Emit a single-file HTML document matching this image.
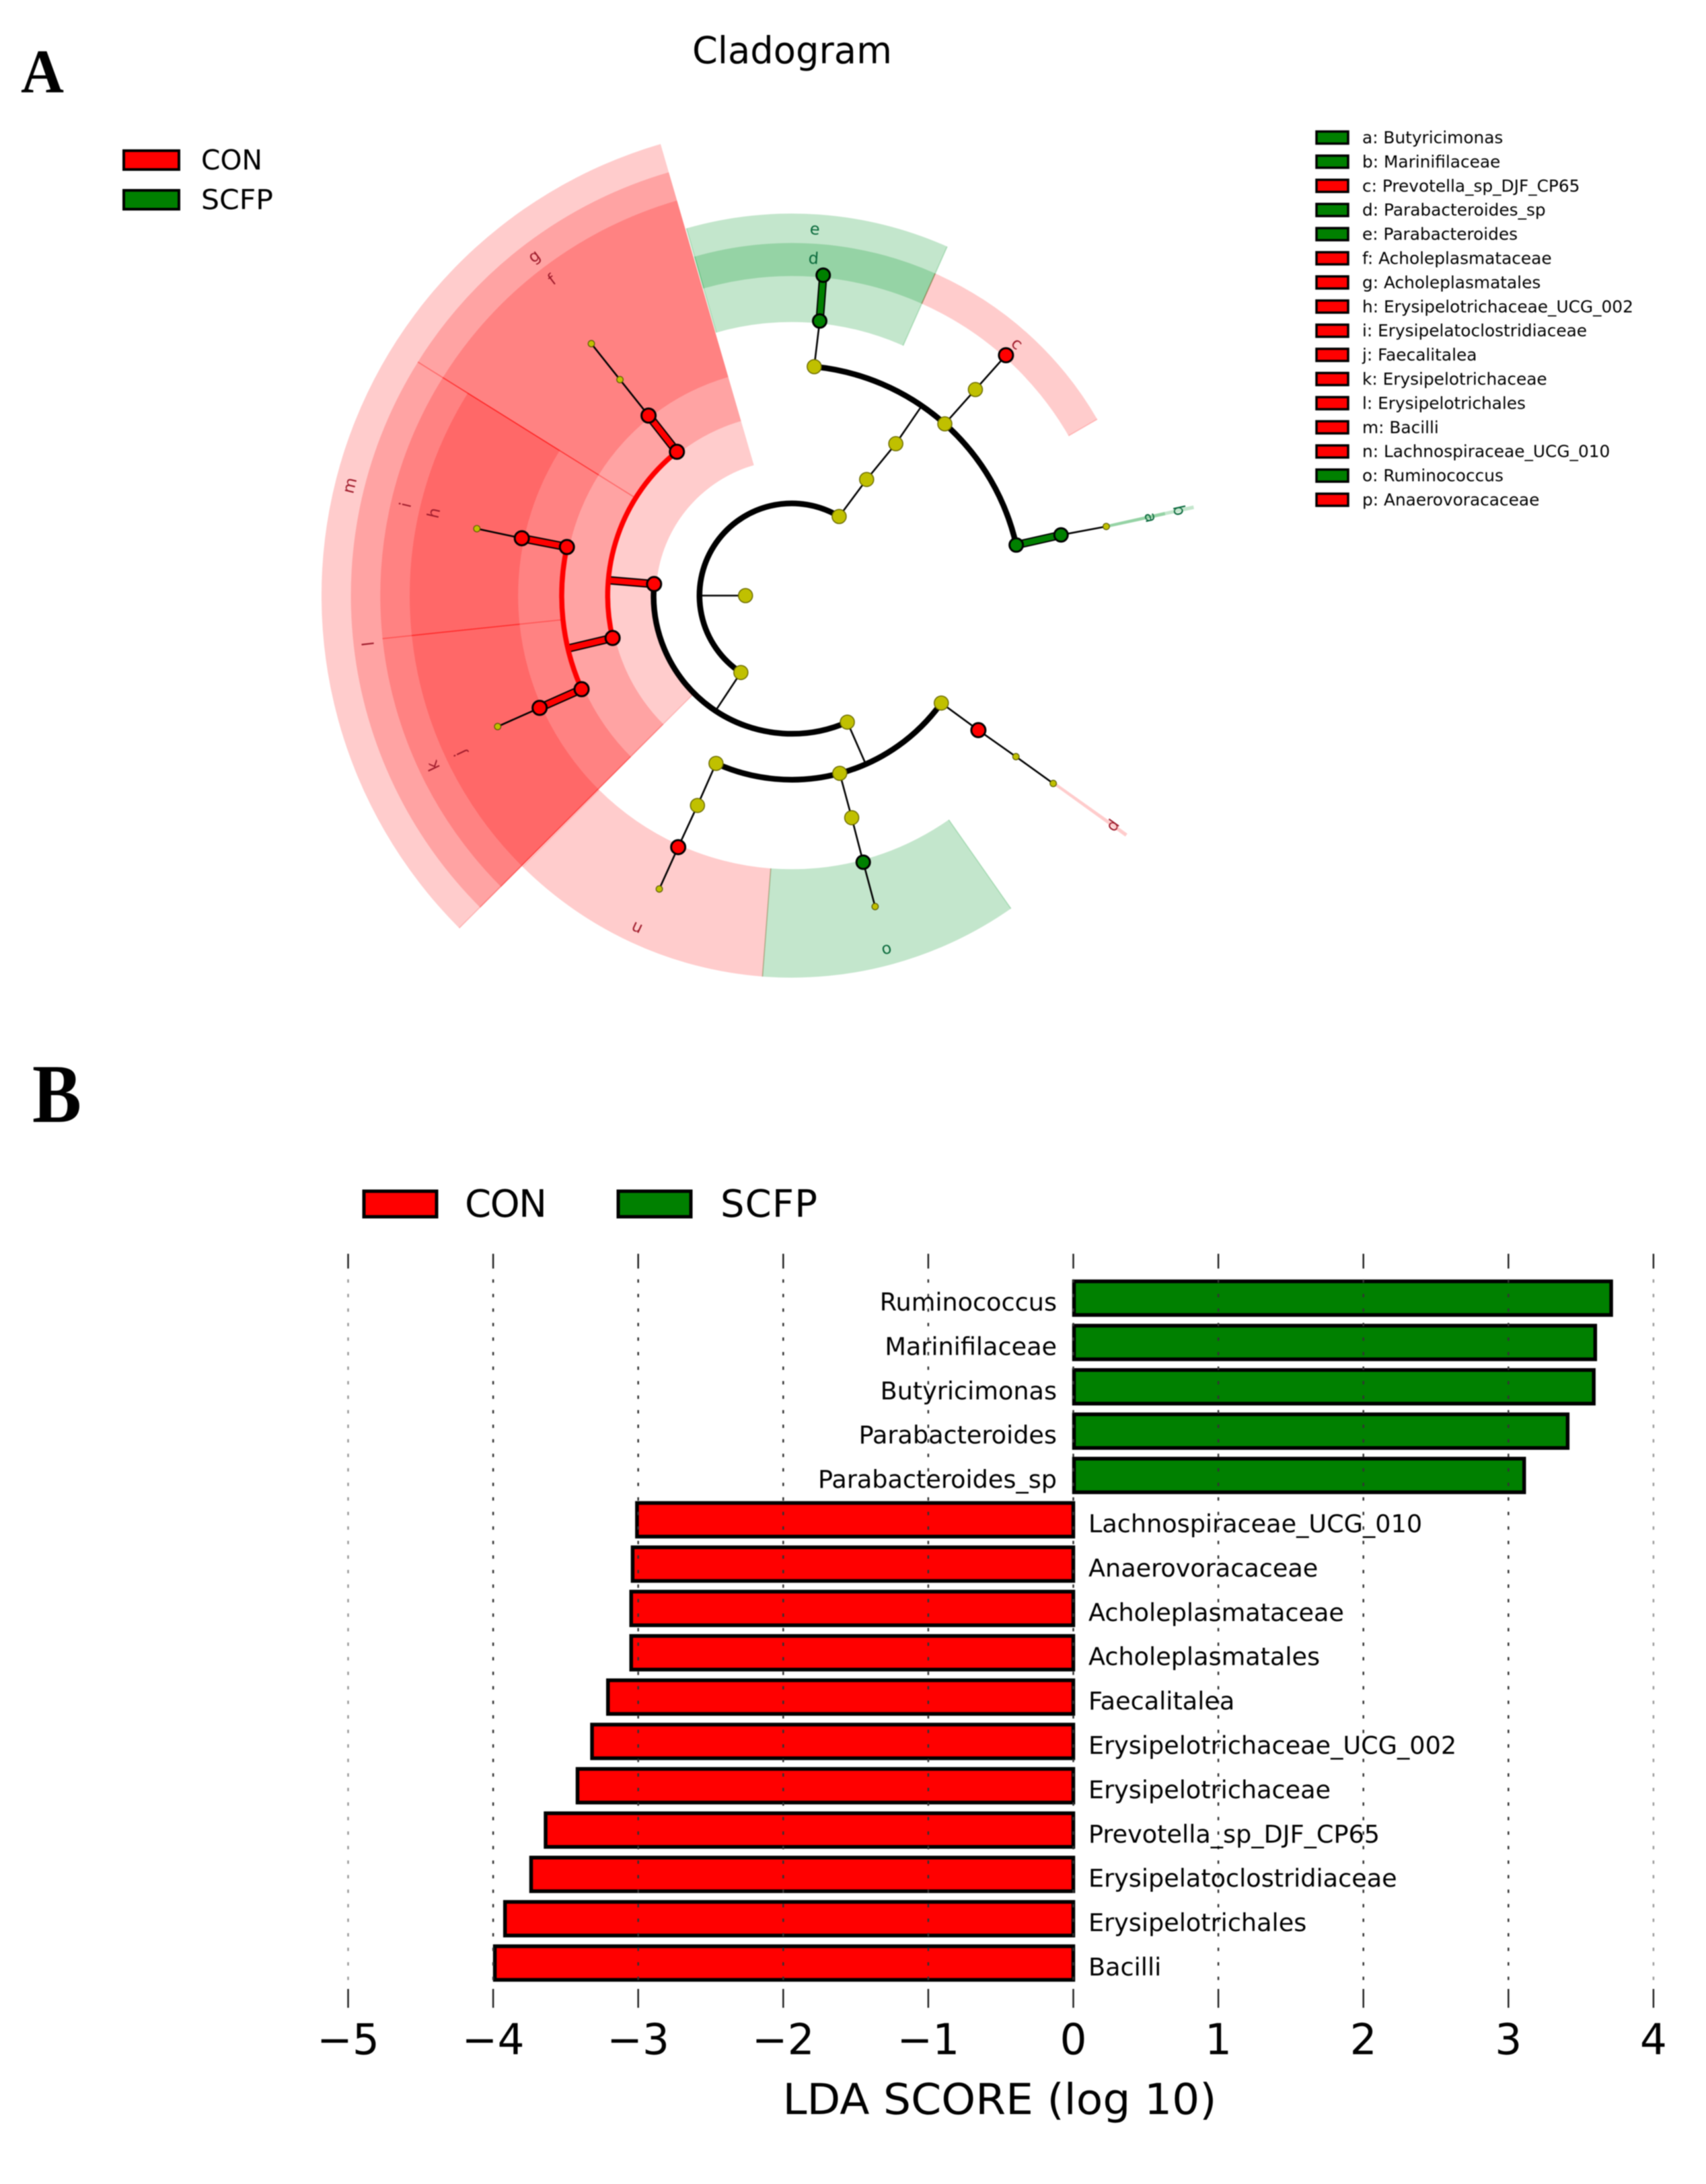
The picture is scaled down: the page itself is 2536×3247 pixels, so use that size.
<!DOCTYPE html>
<html lang="en">
<head>
<meta charset="utf-8">
<title>Cladogram and LDA score chart</title>
<style>
html,body{margin:0;padding:0;background:#fff;}
svg{display:block;filter:blur(0.7px);}
text{font-family:"DejaVu Sans","Liberation Sans",sans-serif;fill:#000;}
.panel{font-family:"Liberation Serif",serif;font-weight:bold;}
</style>
</head>
<body>
<svg id="figure" xmlns="http://www.w3.org/2000/svg" width="2536" height="3247" viewBox="0 0 2536 3247">
  <rect x="0" y="0" width="2536" height="3247" fill="#fff"/>
  <text class="panel" x="31" y="137" font-size="92" textLength="64" lengthAdjust="spacingAndGlyphs">A</text>
  <text class="panel" x="48" y="1668" font-size="124" textLength="73" lengthAdjust="spacingAndGlyphs">B</text>
  <text x="1029" y="94" font-size="55" textLength="297" lengthAdjust="spacingAndGlyphs">Cladogram</text>

  <g>
    <rect x="184" y="224" width="82" height="28" fill="#ff0000" stroke="#000" stroke-width="4"/>
    <text x="299" y="252" font-size="41" textLength="91" lengthAdjust="spacingAndGlyphs">CON</text>
    <rect x="184" y="283" width="82" height="28" fill="#008000" stroke="#000" stroke-width="4"/>
    <text x="299" y="311" font-size="41" textLength="107" lengthAdjust="spacingAndGlyphs">SCFP</text>
  </g>

  <g id="wedges"></g>
  <g id="branches"></g>
  <g id="nodes"></g>
  <g id="wedgeLabels"></g>
  <g id="taxaLegend"></g>

  <g>
    <rect x="541" y="1771" width="108" height="38" fill="#ff0000" stroke="#000" stroke-width="5"/>
    <text x="691" y="1809" font-size="56" textLength="122" lengthAdjust="spacing">CON</text>
    <rect x="919" y="1771" width="108" height="38" fill="#008000" stroke="#000" stroke-width="5"/>
    <text x="1071" y="1809" font-size="56" textLength="144" lengthAdjust="spacing">SCFP</text>
  </g>

  <g id="bars"></g>
  <g id="grid"></g>
  <g id="barLabels"></g>
  <g id="ticks"></g>
  <text x="1486" y="3143" font-size="63" text-anchor="middle" textLength="645" lengthAdjust="spacingAndGlyphs">LDA SCORE (log 10)</text>
</svg>

<script>
// ---------- LDA bar chart data ----------
const taxa = ["Ruminococcus","Marinifilaceae","Butyricimonas","Parabacteroides","Parabacteroides_sp","Lachnospiraceae_UCG_010","Anaerovoracaceae","Acholeplasmataceae","Acholeplasmatales","Faecalitalea","Erysipelotrichaceae_UCG_002","Erysipelotrichaceae","Prevotella_sp_DJF_CP65","Erysipelatoclostridiaceae","Erysipelotrichales","Bacilli"];
const ldaScores = [3.72,3.61,3.60,3.42,3.12,-3.02,-3.05,-3.06,-3.06,-3.22,-3.33,-3.43,-3.65,-3.75,-3.93,-4.00];
const tickValues = [-5,-4,-3,-2,-1,0,1,2,3,4];

// ---------- Cladogram data (depth = tree level, angle = compass degrees, unwrapped) ----------
const nodeDepths  = [1, 2,2, 3,4, 5,5,5, 6,7, 6,7, 6,7, 3,3, 4,4, 5,6,7, 5,5, 6,7, 6,7, 4,4,4, 5,6,7, 5,6,7, 5,6,7];
const nodeAngles  = [270, 390.9,213.5, 392.8,394.4, 365.6,401.7,437.3, 365.8,365.6, 401.7,401.7, 437.3,437.6, 274.8,156.3, 321.4,256.7, 321.5,321.5,321.5, 282.2,246, 282,282, 246,246, 204.3,164.9,125.7, 204.2,204.3,204.3, 164.9,165,165, 125.8,125.7,125.7];
const nodeParents = [-1, 0,0, 1,3, 4,4,4, 5,8, 6,10, 7,12, 2,2, 14,14, 16,18,19, 17,17, 21,23, 22,25, 15,15,15, 27,30,31, 28,33,34, 29,36,37];
const nodeKinds   = ["y", "y","y", "y","y", "y","y","g", "g","g", "y","r", "g","s", "r","y", "r","r", "r","s","s", "r","r", "r","s", "r","s", "y","y","y", "y","r","s", "y","g","s", "r","s","s"];

const wedgeLetters = ["m","g","f","l","i","h","k","j","n","o","e","d","c","p","b","a"];
const wedgeDepths  = [3,4,5,4,5,6,5,6,6,6,6,7,7,5,5,6];
const wedgeInnerDepths = [3,4,5,4,5,6,5,6,6,6,6,7,7,7,7,7];
const wedgeStarts  = [225,302,302,225,264,264,225,225,184.4,145,344,344,384,125.35,437.35,437.35];
const wedgeEnds    = [343.8,343.8,343.8,302,302,302,264,264,224.8,184.4,384,384,420,125.85,437.85,437.85];
const wedgeGroups  = ["r","r","r","r","r","r","r","r","r","g","g","g","r","r","g","g"];
const labelAngles  = [284,322.8,322.8,263.5,283.2,283,244.6,244.6,205,165,363.6,363.7,401.8,125.6,437.6,437.7];

const legendLetters = ["a","b","c","d","e","f","g","h","i","j","k","l","m","n","o","p"];
const legendTaxa = ["Butyricimonas","Marinifilaceae","Prevotella_sp_DJF_CP65","Parabacteroides_sp","Parabacteroides","Acholeplasmataceae","Acholeplasmatales","Erysipelotrichaceae_UCG_002","Erysipelatoclostridiaceae","Faecalitalea","Erysipelotrichaceae","Erysipelotrichales","Bacilli","Lachnospiraceae_UCG_010","Ruminococcus","Anaerovoracaceae"];
const legendGroups = ["g","g","r","g","g","r","r","r","r","r","r","r","r","r","g","r"];

// ---------- helpers ----------
const SVG_NS = "http://www.w3.org/2000/svg";
function make(tag, geometry, parent) {
  const el = document.createElementNS(SVG_NS, tag);
  for (const key in geometry) el.setAttribute(key, geometry[key]);
  parent.appendChild(el);
  return el;
}
function slug(s) { return s.toLowerCase().replace(/[^a-z0-9]+/g, "-"); }

// axis functions: bar chart
const xScale = v => 1595.5 + v * 215.6;
const yBand = i => 1930 + i * 65.9;

// axis functions: polar cladogram
const CX = 1177, CY = 885.5;
const levelRadius = d => 68.3 * d + 0.5;
const wedgeInner = d => 68.3 * d - 3;
const wedgeOuter = d => 524.3 + 43.7 * (7 - d);
function polar(r, deg) {
  const a = deg * Math.PI / 180;
  return [CX + r * Math.sin(a), CY - r * Math.cos(a)];
}
function arcPath(r, a0, a1) {
  const p0 = polar(r, a0), p1 = polar(r, a1);
  const large = (a1 - a0) > 180 ? 1 : 0;
  return "M" + p0[0].toFixed(2) + " " + p0[1].toFixed(2) + "A" + r + " " + r + " 0 " + large + " 1 " + p1[0].toFixed(2) + " " + p1[1].toFixed(2);
}
function sectorPath(r0, r1, a0, a1) {
  const p0 = polar(r1, a0), p1 = polar(r1, a1), p2 = polar(r0, a1), p3 = polar(r0, a0);
  const large = (a1 - a0) > 180 ? 1 : 0;
  return "M" + p0[0].toFixed(2) + " " + p0[1].toFixed(2) + "A" + r1 + " " + r1 + " 0 " + large + " 1 " + p1[0].toFixed(2) + " " + p1[1].toFixed(2) +
         "L" + p2[0].toFixed(2) + " " + p2[1].toFixed(2) + "A" + r0 + " " + r0 + " 0 " + large + " 0 " + p3[0].toFixed(2) + " " + p3[1].toFixed(2) + "Z";
}
const groupColor = { r: "#ff0000", g: "#008000" };
const wedgeFill = { r: "rgb(255,0,0)", g: "rgb(0,149,38)" };
const wedgeAlpha = { r: 0.2, g: 0.235 };
const labelInk = { r: "#a01c2c", g: "#0a6a3c" };
const nodeStyle = {
  y: { fill: "#c0c000", stroke: "#6a6a00", sw: 1.5, r: 10.5 },
  s: { fill: "#c0c000", stroke: "#555500", sw: 1.2, r: 4.8 },
  r: { fill: "#ff0000", stroke: "#000000", sw: 3, r: 10.5 },
  g: { fill: "#008000", stroke: "#000000", sw: 3, r: 10 }
};

// ---------- wedges ----------
const wedgeRoot = document.getElementById("wedges");
wedgeLetters.forEach((letter, i) => {
  const d = wedgeDepths[i], g = wedgeGroups[i];
  const r0 = wedgeInner(wedgeInnerDepths[i]), r1 = wedgeOuter(d);
  const el = make("path", {
    d: sectorPath(r0, r1, wedgeStarts[i], wedgeEnds[i]),
    fill: wedgeFill[g], "fill-opacity": wedgeAlpha[g], stroke: "none"
  }, wedgeRoot);
  
  
  if (wedgeEnds[i] - wedgeStarts[i] > 2) {
    // only the radial edges shared with a neighbouring wedge show as darker seams
    const edges = wedgeEnds[i] > 343 && wedgeEnds[i] < 344 ? [wedgeStarts[i]] : [wedgeStarts[i], wedgeEnds[i]];
    edges.forEach(a => {
      const p = polar(r0, a), q = polar(r1, a);
      const edge = make("line", { x1: p[0], y1: p[1], x2: q[0], y2: q[1], stroke: wedgeFill[g], "stroke-opacity": wedgeAlpha[g], "stroke-width": 1.6 }, wedgeRoot);
      
      
    });
  }
});

// ---------- branches ----------
const branchRoot = document.getElementById("branches");
const isMarked = k => k === "r" || k === "g";
function drawStem(a, b, parentIdx, childIdx) {
  const pk = nodeKinds[parentIdx], ck = nodeKinds[childIdx];
  const thick = isMarked(pk) && isMarked(ck);
  if (thick) {
    const halo = make("line", { x1: a[0], y1: a[1], x2: b[0], y2: b[1], stroke: "#000", "stroke-width": 12.5 }, branchRoot);
    
    
  }
  const ln = make("line", { x1: a[0], y1: a[1], x2: b[0], y2: b[1], stroke: thick ? groupColor[ck] : "#000", "stroke-width": thick ? 8.5 : 2.6 }, branchRoot);
  
  
}
nodeParents.forEach((_, pi) => {
  const kids = [];
  nodeParents.forEach((par, ci) => { if (par === pi) kids.push(ci); });
  if (!kids.length) return;
  const pPos = polar(levelRadius(nodeDepths[pi]), nodeAngles[pi]);
  if (kids.length === 1) {
    const c = kids[0];
    drawStem(pPos, polar(levelRadius(nodeDepths[c]), nodeAngles[c]), pi, c);
    return;
  }
  const r = levelRadius(nodeDepths[kids[0]]);
  const angles = kids.map(k => nodeAngles[k]);
  const a0 = Math.min.apply(null, angles), a1 = Math.max.apply(null, angles);
  const marked = isMarked(nodeKinds[pi]);
  if (marked) {
    drawStem(pPos, polar(r, nodeAngles[pi]), pi, kids[0]);
  } else {
    drawStem(pPos, polar(r, nodeAngles[pi]), pi, pi);
  }
  const arc = make("path", { d: arcPath(r, a0, a1), fill: "none", stroke: marked ? groupColor[nodeKinds[pi]] : "#000", "stroke-width": marked ? 7.5 : 8.5 }, branchRoot);
  
  
});

// ---------- nodes ----------
const nodeRoot = document.getElementById("nodes");
nodeDepths.forEach((d, i) => {
  const st = nodeStyle[nodeKinds[i]];
  const p = polar(levelRadius(d), nodeAngles[i]);
  const c = make("circle", { cx: p[0].toFixed(2), cy: p[1].toFixed(2), r: st.r, fill: st.fill, stroke: st.stroke, "stroke-width": st.sw }, nodeRoot);
  
  
});

// ---------- wedge letters ----------
const labelRoot = document.getElementById("wedgeLabels");
wedgeLetters.forEach((letter, i) => {
  const p = polar(wedgeOuter(wedgeDepths[i]) - 22, labelAngles[i]);
  const t = make("text", {
    x: p[0].toFixed(1), y: p[1].toFixed(1), "font-size": 24, "text-anchor": "middle", "dominant-baseline": "central",
    transform: "rotate(" + labelAngles[i] + " " + p[0].toFixed(1) + " " + p[1].toFixed(1) + ")"
  }, labelRoot);
  t.style.fill = labelInk[wedgeGroups[i]];
  t.textContent = letter;
  
  
});

// ---------- taxa legend ----------
const legendRoot = document.getElementById("taxaLegend");
legendLetters.forEach((letter, i) => {
  const cy = 204.5 + i * 35.9;
  const sw = make("rect", { x: 1957, y: cy - 9, width: 47, height: 18, fill: groupColor[legendGroups[i]], stroke: "#000", "stroke-width": 3.5 }, legendRoot);
  
  
  const t = make("text", { x: 2025, y: cy + 8.5, "font-size": 24.8 }, legendRoot);
  t.textContent = letter + ": " + legendTaxa[i];
  
  
});

// ---------- bars ----------
const barRoot = document.getElementById("bars");
const barLabelRoot = document.getElementById("barLabels");
taxa.forEach((name, i) => {
  const v = ldaScores[i], cy = yBand(i);
  const left = v < 0 ? xScale(v) + 2.5 : xScale(0) + 1;
  const right = v < 0 ? xScale(0) : xScale(v) - 2.5;
  const bar = make("rect", { x: left, y: cy - 25, width: right - left, height: 50, fill: v < 0 ? "#ff0000" : "#008000", stroke: "#000", "stroke-width": 5.5 }, barRoot);
  
  
  const t = make("text", { x: v < 0 ? 1618 : 1571, y: cy + 18.5, "font-size": 36.6, "text-anchor": v < 0 ? "start" : "end" }, barLabelRoot);
  t.textContent = name;
  
  
});

// ---------- grid and ticks ----------
const gridRoot = document.getElementById("grid");
const tickRoot = document.getElementById("ticks");
tickValues.forEach((v, i) => {
  const x = xScale(v);
  const edge = i === 0 || i === tickValues.length - 1;
  const g = make("line", { x1: x, y1: 1902, x2: x, y2: 2957, stroke: edge ? "#999" : "#333", "stroke-width": 2.5, "stroke-dasharray": "5 16.6" }, gridRoot);
  
  
  const top = make("line", { x1: x, y1: 1864, x2: x, y2: 1886, stroke: "#222", "stroke-width": 2.5 }, tickRoot);
  
  
  const bot = make("line", { x1: x, y1: 2957, x2: x, y2: 2985, stroke: "#222", "stroke-width": 2.5 }, tickRoot);
  
  
  const t = make("text", { x: x, y: 3054, "font-size": 63, "text-anchor": "middle" }, tickRoot);
  t.textContent = (v < 0 ? "\u2212" : "") + Math.abs(v);
  
  
});
</script>
</body>
</html>
